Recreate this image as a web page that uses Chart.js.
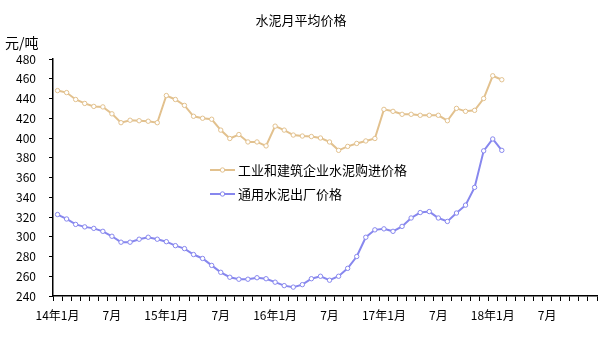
<!DOCTYPE html>
<html>
<head>
<meta charset="utf-8">
<script src="https://cdn.jsdelivr.net/npm/chart.js@4/dist/chart.umd.min.js"></script>
<style>
  html, body { margin: 0; padding: 0; background: #fff; }
  #wrap { position: relative; width: 602px; height: 345px; }
</style>
</head>
<body>
<div id="wrap"><canvas id="cementChart" width="602" height="345"></canvas></div>
<script>

// months 14年1月 .. 18年12月 (data ends 18年2月)
const years = ['14', '15', '16', '17', '18'];

const months = [];
years.forEach(y => {
  for (let m = 1; m <= 12; m++) {
    months.push(m === 1 ? y + '年1月' : (m === 7 ? '7月' : m + '月'));
  }
});

const seriesNames = [
  '工业和建筑企业水泥购进价格',
  '通用水泥出厂价格'
];

const purchasePrice = [
  448, 446, 439, 435, 432, 431.5, 424.5, 415.5, 418, 417.5, 417, 415.5,
  443, 439, 433, 422, 420, 419, 408, 399.5, 403.5, 396, 396, 392,
  412, 408, 403, 402, 401.5, 400, 396, 387.5, 391.5, 394.5, 397, 399.5,
  429, 427, 424, 424, 423, 423, 423, 417.5, 430, 427, 428, 440,
  463, 459
];

const factoryPrice = [
  322.5, 318, 312.5, 310, 308.5, 305.5, 300.5, 294.5, 294.5, 297.5, 299.5, 297.5,
  295, 291, 288, 282, 278, 271, 264, 259, 257, 257, 258.5, 257.5,
  254, 250.5, 249, 251.5, 257.5, 260, 256, 260, 268, 280,
  299.5, 307, 308, 305.5, 310.5, 319, 324.5, 325.5, 319, 315.5, 324, 332,
  350, 387, 399, 387.5
];

const yTicks = { min: 240, max: 480, step: 20 };

const colors = ['#E2C18E', '#8787EE'];

const font = "'Noto Sans CJK SC', 'DejaVu Sans', sans-serif";

// unit, title and in-plot legend
const extras = {
  id: 'extras',
  afterDraw(chart) {
    const c = chart.ctx;
    const area = chart.chartArea;
    c.save();
    c.fillStyle = '#000';
    c.font = '13px ' + font;
    c.textAlign = 'center';
    c.textBaseline = 'middle';
    c.fillText('水泥月平均价格', 301, 20);
    c.textAlign = 'left';
    c.font = '14px ' + font;
    c.fillText('元/吨', 5, 43);

    c.font = '13px ' + font;
    chart.data.datasets.forEach((ds, i) => {
      const y = area.top + 111 + i * 24;
      const x = 210;
      c.strokeStyle = ds.borderColor;
      c.lineWidth = 2;
      c.beginPath();
      c.moveTo(x, y);
      c.lineTo(x + 25, y);
      c.stroke();
      c.fillStyle = '#fff';
      c.lineWidth = 1;
      c.beginPath();
      c.arc(x + 12.5, y, 2.2, 0, Math.PI * 2);
      c.fill();
      c.stroke();
      c.fillStyle = '#000';
      c.fillText(ds.label, x + 28, y);
    });
    c.restore();
  }
};

new Chart(document.getElementById('cementChart'), {

  type: 'line',

  data: {

    labels: months,

    datasets: [purchasePrice, factoryPrice].map((d, i) => ({
      label: seriesNames[i],
      data: d,
      borderColor: colors[i],
      borderWidth: 2,
      pointRadius: 2.2,
      pointBorderWidth: 1,
      pointBackgroundColor: '#fff',
      pointBorderColor: colors[i],
      tension: 0
    }))

  },

  options: {

    responsive: false,
    animation: false,

    layout: {
      padding: { top: 59, right: 4, left: 0, bottom: 0 }
    },

    plugins: {
      legend: { display: false },
      title: { display: false },
      tooltip: { enabled: false }
    },

    scales: {

      x: {
        offset: true,
        border: { color: '#000', width: 1.5 },
        grid: {
          offset: true,
          drawOnChartArea: false,
          drawTicks: true,
          tickLength: 5,
          color: '#000'
        },
        ticks: {
          autoSkip: false,
          maxRotation: 0,
          color: '#000',
          font: { family: font, size: 12 },
          padding: 7,
          callback: (v, i) => (i % 6 === 0 ? months[i] : '')
        },
        afterFit: s => { s.height = 49; }
      },

      y: {
        min: yTicks.min,
        max: yTicks.max,
        border: { color: '#000', width: 1.5 },
        grid: {
          drawOnChartArea: false,
          drawTicks: true,
          tickLength: 4,
          color: '#000'
        },
        ticks: {
          stepSize: yTicks.step,
          color: '#000',
          font: { family: font, size: 12 },
          padding: 13
        },
        afterFit: s => { s.width = 53; }
      }

    }

  },

  plugins: [extras]

});

</script>
</body>
</html>
